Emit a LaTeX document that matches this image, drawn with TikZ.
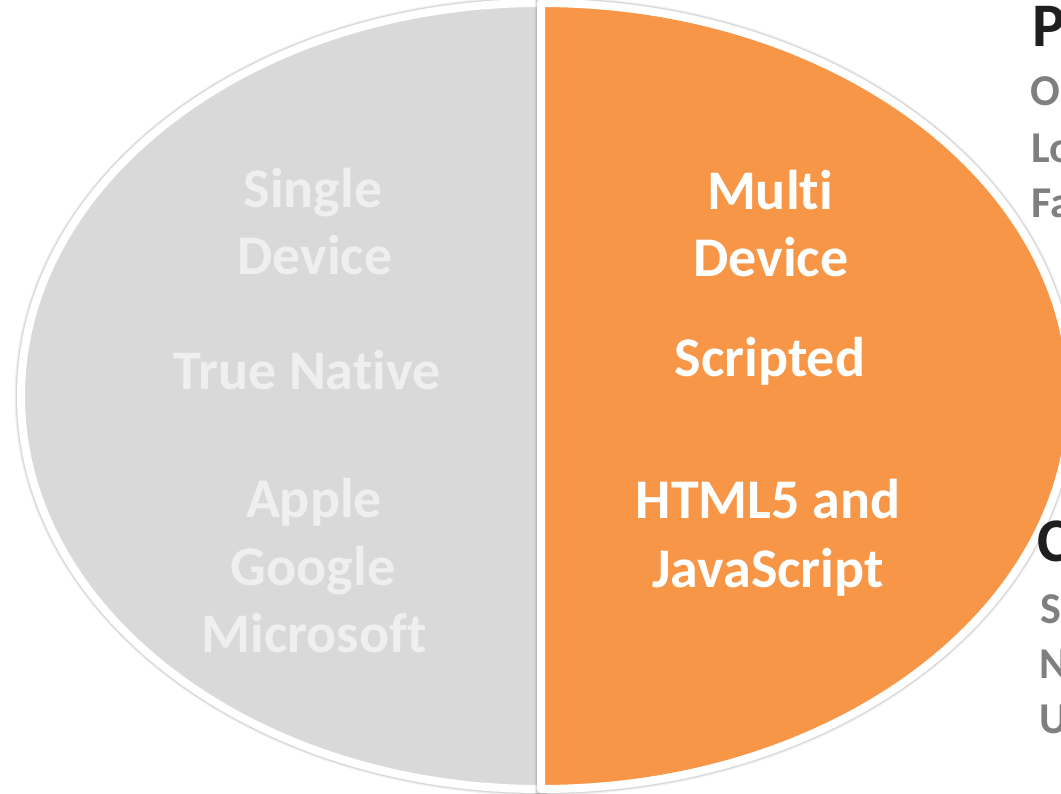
\documentclass[tikz,border=0pt]{standalone}
\usepackage{fontspec}
\setmainfont{Carlito}[Ligatures=NoCommon,RawFeature={-liga;-clig;-dlig}]
\definecolor{halfgray}{HTML}{D9D9D9}
\definecolor{halforange}{HTML}{F79646}
\definecolor{lighttext}{HTML}{EFEFEF}
\definecolor{sidegray}{HTML}{7F7F7F}
\definecolor{sidedark}{HTML}{1F1F1F}
\begin{document}
\begin{tikzpicture}[x=1pt,y=-1pt,
  halfshadow/.style={draw=black,opacity=0.06,line width=13pt},
  halfshadowin/.style={draw=black,opacity=0.10,line width=10.5pt},
  halfshape/.style={draw=white,line width=8pt,line join=round},
  lefttext/.style={font=\bfseries\fontsize{56}{64}\selectfont,text=lighttext,inner sep=0pt,anchor=base},
  righttext/.style={font=\bfseries\fontsize{56}{64}\selectfont,text=white,inner sep=0pt,anchor=base},
  headtext/.style={font=\bfseries\fontsize{62}{70}\selectfont,text=sidedark,inner sep=0pt,anchor=base west},
  itemtext/.style={font=\bfseries\fontsize{44}{50}\selectfont,text=sidegray,inner sep=0pt,anchor=base west}]
\useasboundingbox[fill=white] (0,0) rectangle (1061,794);
% left half
\path[halfshadow] (541,3) arc[start angle=90,end angle=270,x radius=520pt,y radius=393pt] -- cycle;
\path[halfshadowin] (541,3) arc[start angle=90,end angle=270,x radius=520pt,y radius=393pt] -- cycle;
\path[halfshape,fill=halfgray] (541,3) arc[start angle=90,end angle=270,x radius=520pt,y radius=393pt] -- cycle;
% right half
\path[halfshadow] (541,789) arc[start angle=-90,end angle=90,x radius=530pt,y radius=393pt] -- cycle;
\path[halfshadowin] (541,789) arc[start angle=-90,end angle=90,x radius=530pt,y radius=393pt] -- cycle;
\path[halfshape,fill=halforange] (541,789) arc[start angle=-90,end angle=90,x radius=530pt,y radius=393pt] -- cycle;
% left texts
\node[lefttext] (single) at (313,208) {Single};
\node[lefttext] (ldevice) at (315,275) {Device};
\node[lefttext] (native) at (307,390) {True Native};
\node[lefttext] (apple) at (314,517) {Apple};
\node[lefttext] (google) at (313,585) {Google};
\node[lefttext] (microsoft) at (314,652) {Microsoft};
% right texts
\node[righttext] (multi) at (770,210) {Multi};
\node[righttext] (rdevice) at (771,277) {Device};
\node[righttext] (scripted) at (770,377) {Scripted};
\node[righttext] (html) at (768,518) {HTML5 and};
\node[righttext] (js) at (768,587) {JavaScript};
% clipped side texts
\node[headtext] (pro) at (1032,47) {P};
\node[itemtext] (pro1) at (1030,106) {O};
\node[itemtext] (pro2) at (1031,163) {Lo};
\node[itemtext] (pro3) at (1031,218) {Fa};
\node[headtext] (con) at (1037,561) {C};
\node[itemtext] (con1) at (1040,623) {S};
\node[itemtext] (con2) at (1039,678) {N};
\node[itemtext] (con3) at (1039,733) {U};
\end{tikzpicture}
\end{document}
